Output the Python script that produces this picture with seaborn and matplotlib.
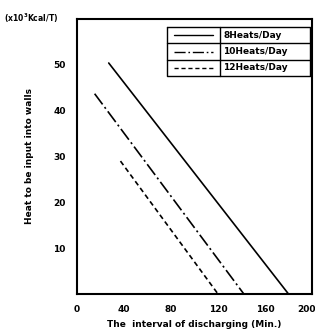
import matplotlib
matplotlib.use("Agg")
import matplotlib.pyplot as plt
import matplotlib.transforms as mtransforms
import seaborn as sns
import pandas as pd
from matplotlib.lines import Line2D

series_names = ["8Heats/Day", "10Heats/Day", "12Heats/Day"]
x_8 = [27, 180]
y_8 = [50.4, 0]
x_10 = [15, 142]
y_10 = [43.7, 0]
x_12 = [37, 120]
y_12 = [29.0, 0]
x_ticks = [0, 40, 80, 120, 160, 200]
y_ticks = [10, 20, 30, 40, 50]

df = pd.concat([
    pd.DataFrame({"x": x_8, "y": y_8, "s": series_names[0]}),
    pd.DataFrame({"x": x_10, "y": y_10, "s": series_names[1]}),
    pd.DataFrame({"x": x_12, "y": y_12, "s": series_names[2]}),
])

sns.set_style("white")
plt.rcParams['font.family'] = ['DejaVu Sans']
plt.rcParams['font.weight'] = 'bold'
plt.rcParams['text.color'] = 'black'
plt.rcParams['axes.labelcolor'] = 'black'
plt.rcParams['xtick.color'] = 'black'
plt.rcParams['ytick.color'] = 'black'

fig = plt.figure(figsize=(3.15, 3.29), dpi=100)
ax = fig.add_axes([77/315, 1 - 294/329, 235/315, 275/329])

styles = {series_names[0]: "-", series_names[1]: (0, (8, 2, 1.2, 2)), series_names[2]: (0, (3, 2))}
for name in series_names:
    sub = df[df["s"] == name]
    sns.lineplot(data=sub, x="x", y="y", ax=ax, color="black", lw=1.2,
                 linestyle=styles[name], legend=False)

ax.set_xlim(0, 200)
ax.set_ylim(0, 60)
ax.set_xticks(x_ticks)
ax.set_yticks(y_ticks)
ax.tick_params(direction="in", length=2, width=1, labelsize=6.5, pad=8)
for lab in ax.get_xticklabels() + ax.get_yticklabels():
    lab.set_fontweight("bold")
last = ax.get_xticklabels()[-1]
last.set_transform(last.get_transform() + mtransforms.ScaledTranslation(-5/100, 0, fig.dpi_scale_trans))
for sp in ax.spines.values():
    sp.set_color("black")
    sp.set_linewidth(1.5)
ax.set_xlabel("The  interval of discharging (Min.)", fontsize=6.5, fontweight="bold", labelpad=4)
ax.set_ylabel("Heat to be input into walls", fontsize=6.5, fontweight="bold", labelpad=14)
fig.text(4/315, 1 - 18/329, "(x10$^3$Kcal/T)", fontsize=5.5, fontweight="bold", va="center", ha="left")

# table-like legend
x0, x1, xm = (167 - 77) / 235, (310 - 77) / 235, (220 - 77) / 235
ytop, ybot = (294 - 27) / 275, (294 - 76) / 275
rh = (ytop - ybot) / 3
kw = dict(transform=ax.transAxes, color="black", lw=1.0, clip_on=False)
ax.add_line(Line2D([x0, x1, x1, x0, x0], [ytop, ytop, ybot, ybot, ytop], **kw))
ax.add_line(Line2D([xm, xm], [ytop, ybot], **kw))
for i in range(1, 3):
    ax.add_line(Line2D([x0, x1], [ytop - i * rh] * 2, **kw))
for i, name in enumerate(series_names):
    yc = ytop - (i + 0.5) * rh
    ax.add_line(Line2D([x0 + 0.03, xm - 0.03], [yc, yc], transform=ax.transAxes,
                       color="black", lw=1.0, linestyle=styles[name]))
    ax.text(xm + 0.015, yc, name, transform=ax.transAxes, fontsize=6.5,
            fontweight="bold", va="center", ha="left")

fig.savefig("out.png", dpi=100)
